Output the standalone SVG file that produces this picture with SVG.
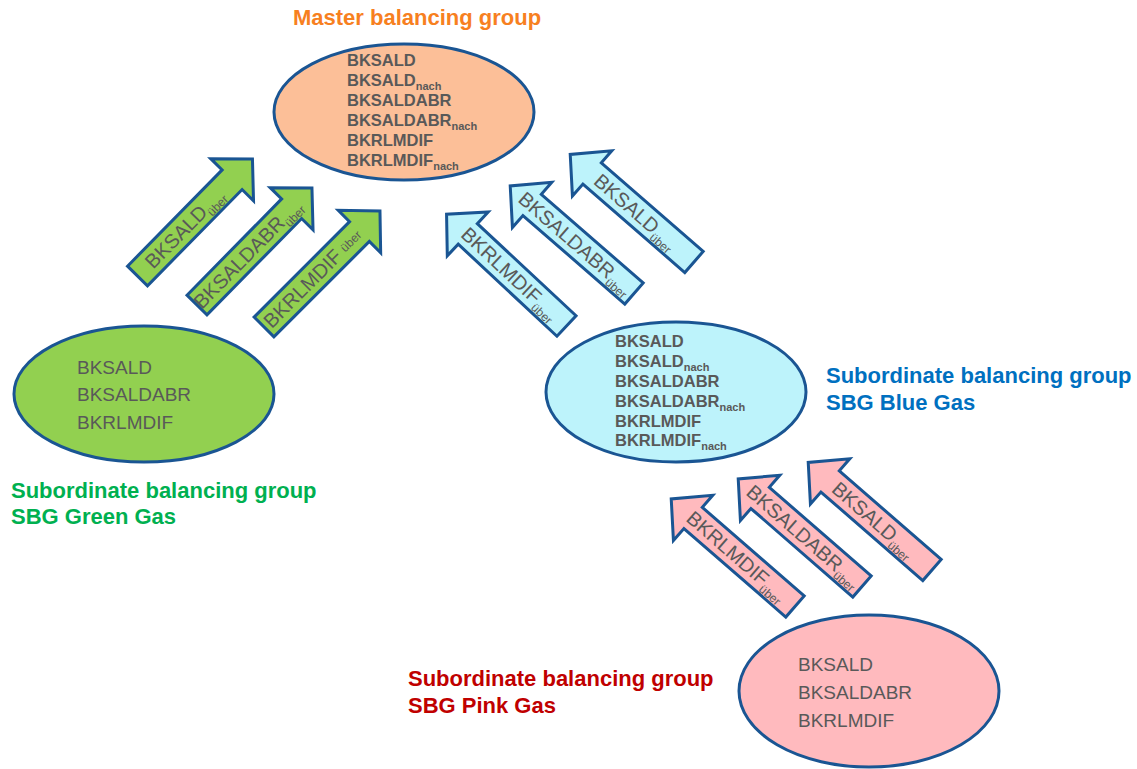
<svg xmlns="http://www.w3.org/2000/svg" width="1137" height="769" viewBox="0 0 1137 769">
  <defs>
    <!-- block arrow pointing along +x, tail at the origin -->
    <polygon id="blockArrow" points="0,-14 135,-14 135,-30 164,0 135,30 135,14 0,14"/>
  </defs>
  <style>
    text { font-family: "Liberation Sans", Arial, sans-serif; }
    .outline { stroke: #1a5593; stroke-width: 3; stroke-linejoin: miter; }
    .fill-master { fill: #fcbf98; }
    .fill-green { fill: #92d050; }
    .fill-blue { fill: #bdf3fb; }
    .fill-pink { fill: #ffbabe; }
    .vals-bold { font-size: 16.5px; font-weight: bold; fill: #595959; }
    .vals { font-size: 19px; fill: #595959; }
    .sub-bold { font-size: 11px; font-weight: bold; }
    .arrow-text { font-size: 20px; fill: #595959; }
    .arrow-sub { font-size: 12px; }
    .heading { font-size: 22px; font-weight: bold; }
  </style>

  <rect width="1137" height="769" fill="#ffffff"/>

  <!-- Master balancing group -->
  <g id="master">
    <text class="heading" x="293" y="25" fill="#f7801f">Master balancing group</text>
    <ellipse class="outline fill-master" cx="404" cy="112" rx="130" ry="68"/>
    <text class="vals-bold" x="347" y="66">BKSALD</text>
    <text class="vals-bold" x="347" y="86">BKSALD<tspan class="sub-bold" dy="4">nach</tspan></text>
    <text class="vals-bold" x="347" y="106">BKSALDABR</text>
    <text class="vals-bold" x="347" y="126">BKSALDABR<tspan class="sub-bold" dy="4">nach</tspan></text>
    <text class="vals-bold" x="347" y="146">BKRLMDIF</text>
    <text class="vals-bold" x="347" y="166">BKRLMDIF<tspan class="sub-bold" dy="4">nach</tspan></text>
  </g>

  <!-- SBG Green Gas -->
  <g id="sbg-green">
    <ellipse class="outline fill-green" cx="144" cy="394" rx="130" ry="68"/>
    <text class="vals" x="77" y="374">BKSALD</text>
    <text class="vals" x="77" y="401">BKSALDABR</text>
    <text class="vals" x="77" y="429">BKRLMDIF</text>
    <text class="heading" x="11" y="498" fill="#00b050">Subordinate balancing group</text>
    <text class="heading" x="11" y="524" fill="#00b050">SBG Green Gas</text>
  </g>

  <!-- SBG Blue Gas -->
  <g id="sbg-blue">
    <ellipse class="outline fill-blue" cx="676" cy="392" rx="130" ry="70"/>
    <text class="vals-bold" x="615" y="347">BKSALD</text>
    <text class="vals-bold" x="615" y="367">BKSALD<tspan class="sub-bold" dy="4">nach</tspan></text>
    <text class="vals-bold" x="615" y="387">BKSALDABR</text>
    <text class="vals-bold" x="615" y="407">BKSALDABR<tspan class="sub-bold" dy="4">nach</tspan></text>
    <text class="vals-bold" x="615" y="427">BKRLMDIF</text>
    <text class="vals-bold" x="615" y="446">BKRLMDIF<tspan class="sub-bold" dy="4">nach</tspan></text>
    <text class="heading" x="826" y="383" fill="#0070c0">Subordinate balancing group</text>
    <text class="heading" x="826" y="410" fill="#0070c0">SBG Blue Gas</text>
  </g>

  <!-- SBG Pink Gas -->
  <g id="sbg-pink">
    <ellipse class="outline fill-pink" cx="869" cy="691" rx="130" ry="76"/>
    <text class="vals" x="798" y="671">BKSALD</text>
    <text class="vals" x="798" y="699">BKSALDABR</text>
    <text class="vals" x="798" y="727">BKRLMDIF</text>
    <text class="heading" x="408" y="686" fill="#c00000">Subordinate balancing group</text>
    <text class="heading" x="408" y="713" fill="#c00000">SBG Pink Gas</text>
  </g>

  <!-- transfer arrows between the groups -->
  <g id="connectors">
    <!-- green to master -->
    <g id="green-bksald" transform="translate(137.5,276) rotate(-45.5)">
      <use href="#blockArrow" class="outline fill-green"/>
      <text class="arrow-text" x="67" y="7" text-anchor="middle">BKSALD<tspan class="arrow-sub" dy="5">über</tspan></text>
    </g>
    <g id="green-bksaldabr" transform="translate(197,305) rotate(-45.5)">
      <use href="#blockArrow" class="outline fill-green"/>
      <text class="arrow-text" x="72" y="7" text-anchor="middle">BKSALDABR<tspan class="arrow-sub" dy="5">über</tspan></text>
    </g>
    <g id="green-bkrlmdif" transform="translate(264,327) rotate(-45)">
      <use href="#blockArrow" class="outline fill-green"/>
      <text class="arrow-text" x="69" y="7" text-anchor="middle">BKRLMDIF<tspan class="arrow-sub" dx="5" dy="-2">über</tspan></text>
    </g>

    <!-- blue to master -->
    <g id="blue-bkrlmdif" transform="translate(566.5,326) rotate(-137)">
      <use href="#blockArrow" class="outline fill-blue"/>
      <text class="arrow-text" transform="translate(77,0) rotate(180)" y="7" text-anchor="middle">BKRLMDIF<tspan class="arrow-sub" dy="5">über</tspan></text>
    </g>
    <g id="blue-bksaldabr" transform="translate(634,293.5) rotate(-139)">
      <use href="#blockArrow" class="outline fill-blue"/>
      <text class="arrow-text" transform="translate(77,0) rotate(180)" y="7" text-anchor="middle">BKSALDABR<tspan class="arrow-sub" dy="5">über</tspan></text>
    </g>
    <g id="blue-bksald" transform="translate(694,262) rotate(-139)">
      <use href="#blockArrow" class="outline fill-blue"/>
      <text class="arrow-text" transform="translate(77,0) rotate(180)" y="7" text-anchor="middle">BKSALD<tspan class="arrow-sub" dy="5">über</tspan></text>
    </g>

    <!-- pink to blue -->
    <g id="pink-bkrlmdif" transform="translate(795,606.5) rotate(-139)">
      <use href="#blockArrow" class="outline fill-pink"/>
      <text class="arrow-text" transform="translate(77,0) rotate(180)" y="7" text-anchor="middle">BKRLMDIF<tspan class="arrow-sub" dy="5">über</tspan></text>
    </g>
    <g id="pink-bksaldabr" transform="translate(862,586.5) rotate(-139)">
      <use href="#blockArrow" class="outline fill-pink"/>
      <text class="arrow-text" transform="translate(77,0) rotate(180)" y="7" text-anchor="middle">BKSALDABR<tspan class="arrow-sub" dy="5">über</tspan></text>
    </g>
    <g id="pink-bksald" transform="translate(932,570) rotate(-139)">
      <use href="#blockArrow" class="outline fill-pink"/>
      <text class="arrow-text" transform="translate(77,0) rotate(180)" y="7" text-anchor="middle">BKSALD<tspan class="arrow-sub" dy="5">über</tspan></text>
    </g>
  </g>
</svg>
